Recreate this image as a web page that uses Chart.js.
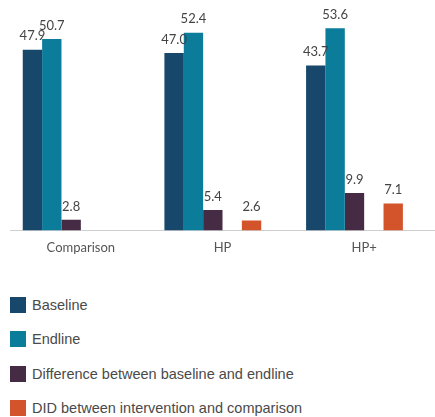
<!DOCTYPE html>
<html>
<head>
<meta charset="utf-8">
<script src="https://cdn.jsdelivr.net/npm/chart.js@4"></script>
<style>
  body { margin: 0; background: #fff; width: 435px; height: 417px; overflow: hidden; position: relative; }
  .canvas-container { position: absolute; left: 0; top: 0; width: 435px; height: 270px; }
  #legend { position: absolute; left: 10px; top: 297px; margin: 0; padding: 0; list-style: none;
    font-family: "Liberation Sans", Arial, sans-serif; font-size: 14.5px; color: #4a4a4a; }
  #legend li { height: 34.3px; display: flex; align-items: flex-start; }
  #legend span.box { width: 16px; height: 16px; margin-right: 6px; display: inline-block; }
  #legend span.txt { line-height: 16px; }
</style>
</head>
<body>
<div class="canvas-container"><canvas id="grafico"></canvas></div>
<ul id="legend"></ul>
<script>
//Datos
const categorias = ['Comparison', 'HP', 'HP+']
const baseline = [47.9, 47.0, 43.7]
const endline = [50.7, 52.4, 53.6]
const diferencia = [2.8, 5.4, 9.9]
const did = [null, 2.6, 7.1]
const series = ['Baseline', 'Endline', 'Difference between baseline and endline', 'DID between intervention and comparison']
const colores = ['#17476b', '#0b7d9b', '#452b43', '#d3532b']

//Plugin para las etiquetas de valor
const etiquetas = {
    id: 'etiquetas',
    afterDatasetsDraw(chart) {
        const ctx = chart.ctx
        ctx.save()
        ctx.font = '13px Lato'
        ctx.fillStyle = '#444'
        ctx.textAlign = 'center'
        ctx.textBaseline = 'bottom'
        chart.data.datasets.forEach((ds, i) => {
            if (ds.spacer) return
            chart.getDatasetMeta(i).data.forEach((bar, j) => {
                const v = ds.data[j]
                if (v === null) return
                ctx.fillText(v.toFixed(1), bar.x, bar.y - 7)
            })
        })
        ctx.restore()
    }
}

//Espacios vacios entre barras
const vacio = { label: '', data: [null, null, null], spacer: true }

const ctx = document.getElementById('grafico').getContext('2d')
const chartInstance = new Chart(ctx, {
    type: 'bar',
    data: {
        labels: categorias,
        datasets: [
            { label: series[0], data: baseline, backgroundColor: colores[0] },
            { label: series[1], data: endline, backgroundColor: colores[1] },
            { label: series[2], data: diferencia, backgroundColor: colores[2] },
            { ...vacio },
            { label: series[3], data: did, backgroundColor: colores[3] },
            { ...vacio }
        ]
    },
    options: {
        responsive: true,
        maintainAspectRatio: false,
        animation: false,
        datasets: { bar: { categoryPercentage: 0.82, barPercentage: 1 } },
        layout: { padding: { left: 10, right: 0, top: 4, bottom: 4 } },
        plugins: { legend: { display: false }, tooltip: { enabled: false } },
        scales: {
            x: {
                grid: { display: false, drawTicks: false },
                border: { color: '#cfcfcf', width: 1 },
                ticks: { color: '#555', font: { family: 'Lato', size: 13 }, padding: 10 }
            },
            y: { display: false, min: 0, max: 60 }
        }
    },
    plugins: [etiquetas]
})

//Leyenda vertical
document.querySelector('#legend').innerHTML = series.map((s, i) => `
    <li><span class="box" style="background:${colores[i]}"></span><span class="txt">${s}</span></li>
`).join('')
</script>
</body>
</html>
